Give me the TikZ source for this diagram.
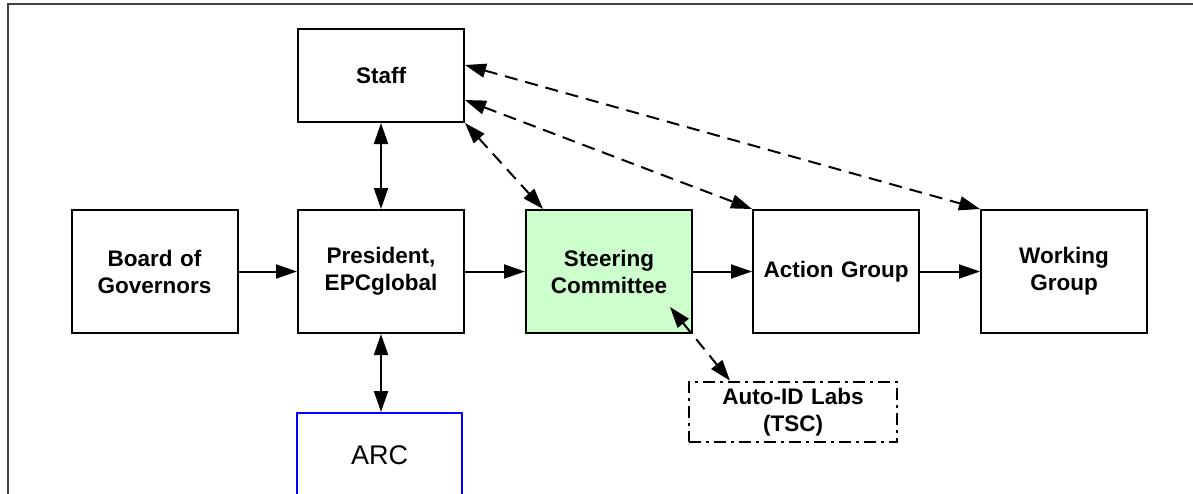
\documentclass[tikz,border=0pt]{standalone}
\usepackage{fontspec}
\setmainfont{Liberation Sans}
\usetikzlibrary{arrows.meta}
\definecolor{lightgreen}{HTML}{CCFFCC}
\definecolor{frameGray}{HTML}{404040}
\tikzset{
  box/.style={draw=black, line width=2pt, minimum width=166pt, minimum height=123pt,
    inner sep=0pt, align=center, text width=160pt,
    font=\bfseries\fontsize{22.5}{27}\selectfont},
  conn/.style={line width=2pt, -{Triangle[length=21pt,width=14pt]}},
  biconn/.style={line width=2pt, {Triangle[length=21pt,width=14pt]}-{Triangle[length=21pt,width=14pt]}},
  dconn/.style={biconn, dash pattern=on 13pt off 8pt},
}
\begin{document}
\begin{tikzpicture}[x=1pt,y=-1pt]
\useasboundingbox (0,0) rectangle (1193,493);
\clip (0,0) rectangle (1193,493);
\draw[line width=2pt, frameGray] (8,520) -- (8,4) -- (1220,4);

\node[box, minimum height=93pt] (staff) at (381,75.5) {Staff};
\node[box] (board) at (154.5,271.5) {Board of\\Governors};
\node[box] (pres) at (381,271.5) {President,\\EPCglobal};
\node[box, fill=lightgreen] (steer) at (609,271.5) {Steering\\Committee};
\node[box] (action) at (836,271.5) {Action Group};
\node[box] (working) at (1064,271.5) {Working\\Group};
\node[box, minimum width=208pt, minimum height=60pt, text width=200pt,
      dash pattern=on 12pt off 5pt on 3pt off 5pt] (autoid) at (793,411.7) {Auto-ID Labs\\(TSC)};
\node[draw=blue, line width=2pt, minimum width=165pt, minimum height=84pt, inner sep=0pt,
      font=\fontsize{27}{32}\selectfont] (arc) at (379.5,455) {ARC};

\draw[conn] (board) -- (pres);
\draw[conn] (pres) -- (steer);
\draw[conn] (steer) -- (action);
\draw[conn] (action) -- (working);
\draw[biconn] (staff) -- (pres);
\draw[biconn] (pres.south) -- (pres.south |- arc.north);

\coordinate (scin) at (670,307);
\draw[dconn] (staff.south east) -- ([xshift=-66pt]steer.north);
\draw[dconn] ([yshift=-24.5pt]staff.east) -- (action.north west);
\draw[dconn] ([yshift=10.5pt]staff.east) -- (working.north west);
\draw[dconn] (scin) -- ([xshift=-63pt]autoid.north);
\end{tikzpicture}
\end{document}
